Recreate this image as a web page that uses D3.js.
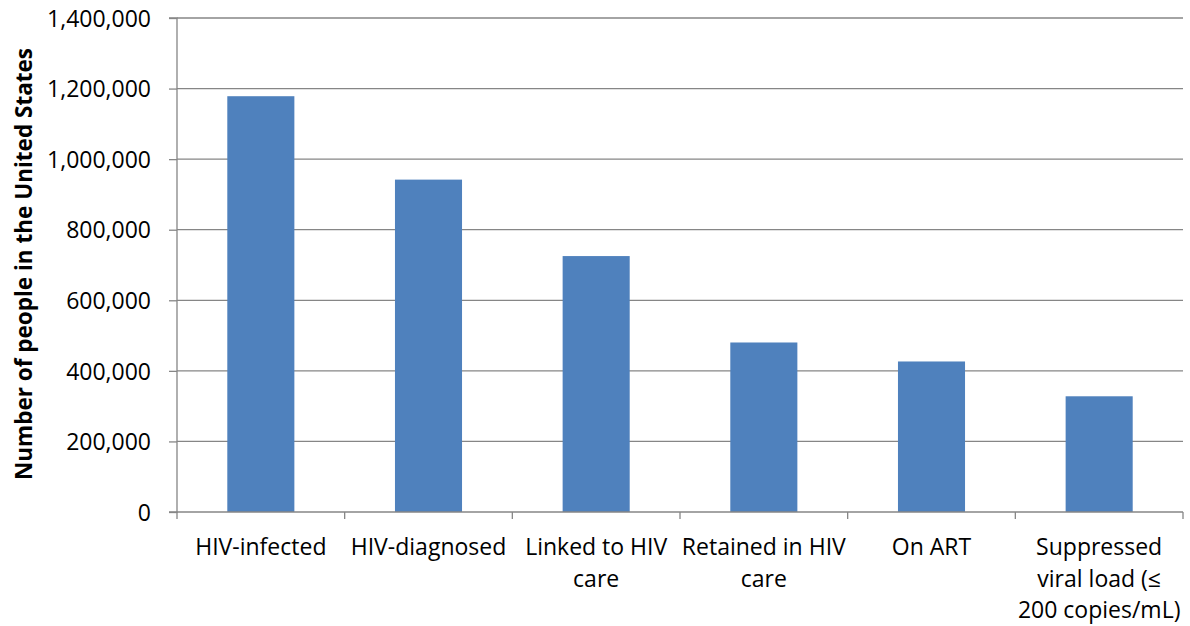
<!DOCTYPE html>
<html>
<head>
<meta charset="utf-8">
<script src="https://cdn.jsdelivr.net/npm/d3@7"></script>
<style>
  html, body { margin: 0; padding: 0; background: #fff; }
  svg { display: block; }
  text { font-family: "Open Sans", "Noto Sans", sans-serif; fill: #000; }
</style>
</head>
<body>
<svg id="chart" width="1190" height="626"></svg>
<script>
const categories = ["HIV-infected", "HIV-diagnosed", "Linked to HIV care", "Retained in HIV care", "On ART", "Suppressed viral load (≤ 200 copies/mL)"];
const categoryLines = [
  ["HIV-infected"],
  ["HIV-diagnosed"],
  ["Linked to HIV", "care"],
  ["Retained in HIV", "care"],
  ["On ART"],
  ["Suppressed", "viral load (≤", "200 copies/mL)"]
];
const values = [1178350, 941950, 725302, 480395, 426590, 327950];
const yTicks = [0, 200000, 400000, 600000, 800000, 1000000, 1200000, 1400000];
const yTitle = "Number of people in the United States";

(function () {
const svg = d3.select("#chart");
const pL = 177, pR = 1183, pT = 18, pB = 512;

const x = d3.scaleBand().domain(categories).range([pL, pR]).padding(0);
const y = d3.scaleLinear().domain([0, 1400000]).range([pB, pT]);
const fmt = d3.format(",");

// gridlines
svg.append("g").selectAll("line").data(yTicks.filter(d => d > 0)).join("line")
  .attr("x1", pL).attr("x2", pR)
  .attr("y1", d => y(d)).attr("y2", d => y(d))
  .attr("stroke", "#868686").attr("stroke-width", 1.3);

// bars
const bw = x.bandwidth() * 0.4;
svg.append("g").selectAll("rect").data(values).join("rect")
  .attr("x", (d, i) => x(categories[i]) + (x.bandwidth() - bw) / 2)
  .attr("width", bw)
  .attr("y", d => y(d))
  .attr("height", d => y(0) - y(d))
  .attr("fill", "#4F81BD");

// y axis
const yAxis = d3.axisLeft(y).tickValues(yTicks).tickFormat(fmt).tickSize(8).tickPadding(18);
const gy = svg.append("g").attr("transform", `translate(${pL},0)`).call(yAxis);
gy.select(".domain").attr("stroke", "#868686").attr("stroke-width", 1.3).attr("d", `M-8,${pT}H0V${pB}H-8`);
gy.selectAll(".tick line").attr("stroke", "#868686").attr("stroke-width", 1.3);
gy.selectAll(".tick text").attr("font-size", 23).attr("font-family", "Open Sans").attr("fill", "#000").attr("dy", "0.36em");

// x axis
const xAxis = d3.axisBottom(x).tickSize(0).tickFormat("");
const gx = svg.append("g").attr("transform", `translate(0,${pB})`).call(xAxis);
gx.select(".domain").attr("stroke", "#868686").attr("stroke-width", 1.3).attr("d", `M${pL},0H${pR}`);
const bounds = categories.map(c => x(c)).concat([pR]);
gx.append("g").selectAll("line").data(bounds).join("line")
  .attr("x1", d => d).attr("x2", d => d).attr("y1", 0).attr("y2", 7)
  .attr("stroke", "#868686").attr("stroke-width", 1.3);

// category labels
const lab = svg.append("g");
categories.forEach((c, i) => {
  const cx = x(c) + x.bandwidth() / 2;
  const t = lab.append("text")
    .attr("text-anchor", "middle")
    .attr("font-size", 23)
    .attr("x", cx)
    .attr("y", 555);
  categoryLines[i].forEach((ln, j) => {
    t.append("tspan").attr("x", cx).attr("dy", j === 0 ? 0 : 31.5).text(ln);
  });
});

// y title
svg.append("text")
  .attr("transform", `translate(32,264) rotate(-90)`)
  .attr("text-anchor", "middle")
  .attr("font-size", 22.5)
  .attr("font-weight", "bold")
  .text(yTitle);
})();
</script>
</body>
</html>
